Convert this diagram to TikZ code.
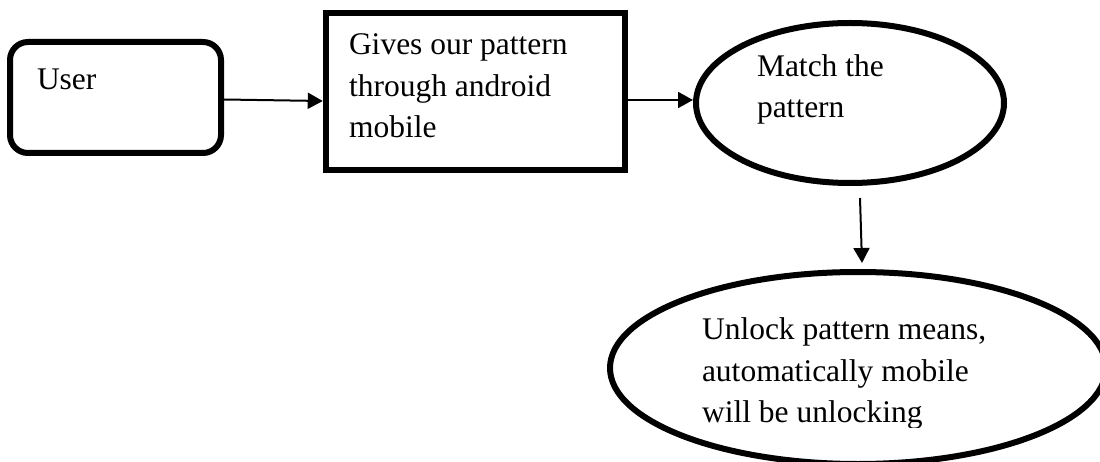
\documentclass[tikz,border=0pt]{standalone}
\usepackage{fontspec}
\setmainfont{Liberation Serif}
\usetikzlibrary{arrows.meta,shapes.geometric}
\begin{document}
\begin{tikzpicture}[x=1pt,y=-1pt,
  txt/.style={inner sep=0pt,outer sep=0pt,align=left,font=\fontsize{31.5}{41.5}\selectfont,anchor=base west},
  userbox/.style={draw,line width=6pt,rounded corners=18pt,minimum width=211pt,minimum height=111pt,inner sep=0pt},
  rectbox/.style={draw,line width=6.5pt,minimum width=299pt,minimum height=157pt,inner sep=0pt},
  ellbox/.style={draw,ellipse,line width=6pt,inner sep=0pt},
  arr/.style={line width=2pt,-{Triangle[length=15pt,width=16pt]}}]
\useasboundingbox (0,0) rectangle (1100,462);
\clip (0,0) rectangle (1100,462);
\node[userbox] (user) at (115.5,97.5) {};
\node[rectbox] (gives) at (475.5,91.5) {};
\node[ellbox,minimum width=308pt,minimum height=160pt] (match) at (850,103) {};
\node[ellbox,minimum width=496pt,minimum height=192pt] (unlock) at (858,368) {};
\node[txt] (usertext) at (37,90) {User};
\node[txt] (givestext) at (349,138) {Gives our pattern\\through android\\mobile};
\node[txt] (matchtext) at (757,118) {Match the\\pattern};
\begin{scope}
\clip (600,290) rectangle (1000,427.5);
\node[txt] (unlocktext) at (702,422.5) {Unlock pattern means,\\automatically mobile\\will be unlocking};
\end{scope}
\draw[arr] ([yshift=-2pt]user.east) -- ([yshift=-9.5pt]gives.west);
\draw[arr] ([yshift=-8.5pt]gives.east) -- ([yshift=3pt]match.west);
\draw[arr] ([xshift=10pt,yshift=-12pt]match.south) -- ([xshift=4pt,yshift=6pt]unlock.north);
\end{tikzpicture}
\end{document}
